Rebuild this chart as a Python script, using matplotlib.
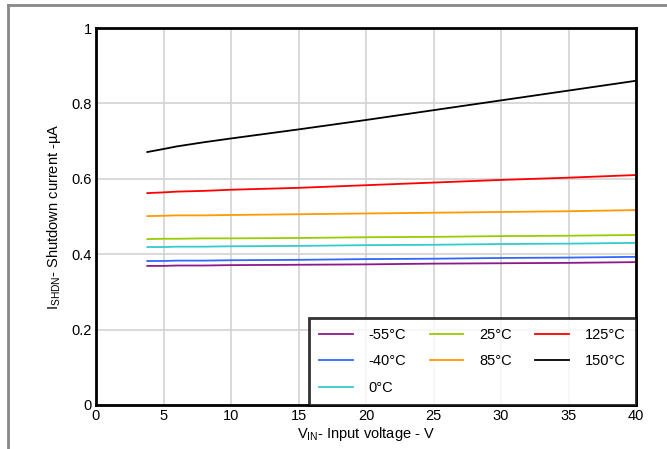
import numpy as np
import matplotlib.pyplot as plt
from matplotlib.lines import Line2D

plt.rcParams['font.family'] = ['Liberation Sans', 'DejaVu Sans']
plt.rcParams['mathtext.fontset'] = 'custom'
plt.rcParams['mathtext.rm'] = 'Liberation Sans'

vin = [3.8, 5, 6, 8, 10, 15, 20, 25, 30, 35, 40]

i_m55 = [0.369, 0.369, 0.370, 0.370, 0.371, 0.372, 0.373, 0.375, 0.376, 0.377, 0.379]
i_m40 = [0.382, 0.382, 0.383, 0.383, 0.384, 0.385, 0.387, 0.388, 0.390, 0.391, 0.393]
i_0 = [0.419, 0.419, 0.420, 0.420, 0.421, 0.422, 0.424, 0.425, 0.427, 0.428, 0.430]
i_25 = [0.440, 0.441, 0.441, 0.442, 0.442, 0.443, 0.445, 0.446, 0.448, 0.449, 0.451]
i_85 = [0.501, 0.502, 0.503, 0.503, 0.504, 0.506, 0.508, 0.510, 0.512, 0.514, 0.517]
i_125 = [0.562, 0.564, 0.566, 0.568, 0.571, 0.576, 0.583, 0.590, 0.597, 0.603, 0.610]
i_150 = [0.671, 0.679, 0.686, 0.697, 0.707, 0.731, 0.756, 0.782, 0.808, 0.834, 0.860]

series = [
    ('-55°C', i_m55, '#8b1a8b'),
    ('-40°C', i_m40, '#3366ff'),
    ('0°C', i_0, '#33cccc'),
    ('25°C', i_25, '#99cc00'),
    ('85°C', i_85, '#ff9900'),
    ('125°C', i_125, '#ff0000'),
    ('150°C', i_150, '#000000'),
]

fig = plt.figure(figsize=(6.67, 4.49), dpi=100)
ax = fig.add_axes([96 / 667, 1 - 405 / 449, 540 / 667, 377 / 449])

for name, vals, col in series:
    ax.plot(vin, vals, color=col, lw=1.3, label=name)

ax.set_xlim(0, 40)
ax.set_ylim(0, 1)
ax.set_xticks(np.arange(0, 41, 5))
ax.set_yticks([0, 0.2, 0.4, 0.6, 0.8, 1])
ax.set_yticklabels(['0', '0.2', '0.4', '0.6', '0.8', '1'])
ax.grid(True, color='#d3d3d3', lw=1.2)
ax.set_axisbelow(True)
ax.tick_params(length=0, labelsize=10.5, pad=3)
for s in ax.spines.values():
    s.set_linewidth(2)

ax.set_xlabel('V$_{\\mathregular{IN}}$- Input voltage - V', fontsize=10.5, labelpad=1)
ax.set_ylabel('I$_{\\mathregular{SHDN}}$- Shutdown current -µA', fontsize=10.5, labelpad=6)

leg = ax.legend(ncol=3, loc='lower right', fontsize=10.5, frameon=True, fancybox=False,
                edgecolor='black', borderaxespad=0, handlelength=2.3, columnspacing=1.6,
                handletextpad=1.1, labelspacing=0.85, borderpad=0.7)
leg.get_frame().set_linewidth(2)

fig.add_artist(Line2D([8 / 667, 1], [1 - 5 / 449, 1 - 5 / 449], color='#888888', lw=2))
fig.add_artist(Line2D([8 / 667, 8 / 667], [0, 1 - 5 / 449], color='#888888', lw=2))

fig.savefig('out.png', dpi=100)
